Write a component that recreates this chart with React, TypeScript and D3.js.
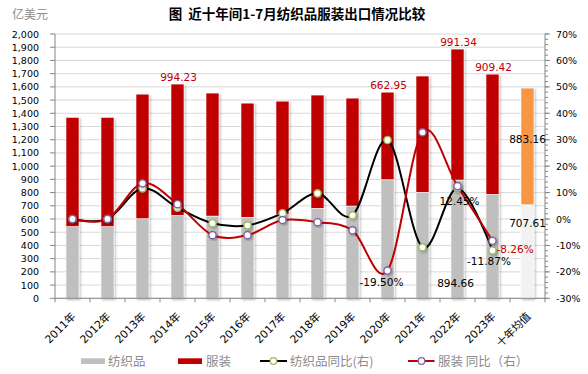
import React from "react";
import * as d3 from "d3";

const categories = ["2011年","2012年","2013年","2014年","2015年","2016年","2017年","2018年","2019年","2020年","2021年","2022年","2023年","十年均值"];
const textile = [542, 542, 602, 627, 622, 613, 636, 681, 698, 897, 802, 894.66, 787, 707.61];
const apparel = [827, 827, 943, 994.23, 931, 864, 856, 857, 817, 662.95, 880, 991.34, 909.42, 883.16];
const textileYoY = [0, 0, 11.6, 4.3, -1.6, -2.4, 2.2, 9.7, 1.4, 29.9, -10.7, 11.6, -11.87];
const apparelYoY = [0, 0, 13.5, 5.6, -6.1, -6.1, -0.4, -1.2, -4.3, -19.5, 32.8, 12.45, -8.26];
const leftTicks = d3.range(0, 2001, 100);
const rightTicks = d3.range(-30, 71, 10);
const rightMinor = d3.range(-30, 71, 2);

const W = 588, H = 374;
const L = 55, R = 545, T = 34, B = 298.3;
const GRAY = "#bfbfbf", RED = "#c00000", AVG_LOW = "#f2f2f2", AVG_TOP = "#f79646";
const NUM = "'DejaVu Sans', 'Noto Sans CJK SC', sans-serif";
const CJK = "'Noto Sans CJK SC', 'DejaVu Sans', sans-serif";
const f2 = (v: number) => v.toFixed(2);

export default function App() {
  const x = d3.scaleBand<string>().domain(categories).range([L, R]).paddingInner(22 / 35).paddingOuter(11 / 35);
  const band = (R - L) / categories.length;
  const cx = (i: number) => L + band * (i + 0.5);
  const yL = d3.scaleLinear().domain([0, 2000]).range([B, T]);
  const yR = d3.scaleLinear().domain([-30, 70]).range([B, T]);
  const bw = x.bandwidth();
  const line = d3.line<number>().x((_, i) => cx(i)).y((d) => yR(d)).curve(d3.curveCardinal.tension(0));
  const avgIdx = categories.length - 1;

  return (
    <svg width={W} height={H} style={{ position: "absolute", left: 0, top: 0, background: "#fff" }}>
      <defs>
        <filter id="sh" x="-30%" y="-30%" width="160%" height="160%">
          <feDropShadow dx="1.2" dy="1.2" stdDeviation="0.9" floodColor="#000" floodOpacity="0.28" />
        </filter>
      </defs>
      {/* title */}
      <text x={297} y={19} textAnchor="middle" fontFamily={CJK} fontWeight="bold" fontSize={13.5} fill="#000" style={{ whiteSpace: "pre" }}>{"图  近十年间1-7月纺织品服装出口情况比较"}</text>
      <text x={12} y={19} fontFamily={CJK} fontSize={12} fill="#8c8c8c">亿美元</text>

      {/* gridlines */}
      {leftTicks.map((t) => (
        <line key={"g" + t} x1={L} x2={R} y1={yL(t)} y2={yL(t)} stroke="#d9d9d9" strokeWidth={1} />
      ))}

      {/* bars */}
      {categories.map((c, i) => {
        const isAvg = i === avgIdx;
        const x0 = x(c)!;
        return (
          <g key={c} filter="url(#sh)">
            <rect x={x0} y={yL(textile[i])} width={bw} height={yL(0) - yL(textile[i])} fill={isAvg ? AVG_LOW : GRAY} stroke="#fff" strokeWidth={0.6} />
            <rect x={x0} y={yL(textile[i] + apparel[i])} width={bw} height={yL(textile[i]) - yL(textile[i] + apparel[i])} fill={isAvg ? AVG_TOP : RED} stroke="#fff" strokeWidth={0.6} />
          </g>
        );
      })}

      {/* axes */}
      <line x1={L} x2={L} y1={T} y2={B} stroke="#868686" />
      {leftTicks.map((t) => (
        <g key={"lt" + t}>
          <line x1={L - 5} x2={L} y1={yL(t)} y2={yL(t)} stroke="#868686" />
          <text x={39} y={yL(t) + 3.5} textAnchor="end" fontFamily={NUM} fontSize={9.5} fill="#000">{d3.format(",")(t)}</text>
        </g>
      ))}
      <line x1={R} x2={R} y1={T} y2={B} stroke="#868686" />
      {rightMinor.map((t) => (
        <line key={"rm" + t} x1={R} x2={R + 3} y1={yR(t)} y2={yR(t)} stroke="#868686" />
      ))}
      {rightTicks.map((t) => (
        <g key={"rt" + t}>
          <line x1={R} x2={R + 5} y1={yR(t)} y2={yR(t)} stroke="#868686" />
          <text x={556} y={yR(t) + 3.5} fontFamily={NUM} fontSize={9.5} fill="#000">{t + "%"}</text>
        </g>
      ))}
      <line x1={L} x2={R} y1={B} y2={B} stroke="#868686" />
      {d3.range(categories.length + 1).map((i) => (
        <line key={"xt" + i} x1={L + band * i} x2={L + band * i} y1={B} y2={B + 4} stroke="#868686" />
      ))}
      {categories.map((c, i) => (
        <text key={"xl" + c} transform={`translate(${cx(i) + 4},${317}) rotate(-45)`} textAnchor="end" fontFamily={NUM} fontSize={10.8} fill="#000">{c}</text>
      ))}

      {/* lines */}
      <path d={line(textileYoY)!} fill="none" stroke="#000" strokeWidth={2} />
      <path d={line(apparelYoY)!} fill="none" stroke={RED} strokeWidth={2} />
      {textileYoY.map((v, i) => (
        <circle key={"tm" + i} cx={cx(i)} cy={yR(v)} r={3.6} fill="#fff" stroke="#9bbb59" strokeWidth={1.4} filter="url(#sh)" />
      ))}
      {apparelYoY.map((v, i) => (
        <circle key={"am" + i} cx={cx(i)} cy={yR(v)} r={3.6} fill="#fff" stroke="#8064a2" strokeWidth={1.4} filter="url(#sh)" />
      ))}

      {/* data labels */}
      {[3, 9, 11, 12].map((i) => (
        <text key={"al" + i} x={cx(i) + 1} y={yL(textile[i] + apparel[i]) - 3} textAnchor="middle" fontFamily={NUM} fontSize={10.5} fill={RED}>{f2(apparel[i])}</text>
      ))}
      <text x={cx(avgIdx)} y={yL(textile[avgIdx] + apparel[avgIdx] / 2) - 3} textAnchor="middle" fontFamily={NUM} fontSize={10.5} fill="#000">{f2(apparel[avgIdx])}</text>
      <text x={cx(avgIdx)} y={yL(textile[avgIdx]) + 22} textAnchor="middle" fontFamily={NUM} fontSize={10.5} fill="#000">{f2(textile[avgIdx])}</text>
      <text x={cx(11) - 2} y={yL(0) - 11} textAnchor="middle" fontFamily={NUM} fontSize={10.5} fill="#000">{f2(textile[11])}</text>
      <text x={cx(9) - 6} y={yR(apparelYoY[9]) + 15.5} textAnchor="middle" fontFamily={NUM} fontSize={10.5} fill="#000">{f2(apparelYoY[9]) + "%"}</text>
      <text x={cx(11) + 2} y={yR(apparelYoY[11]) + 19} textAnchor="middle" fontFamily={NUM} fontSize={10.5} fill="#000">{f2(apparelYoY[11]) + "%"}</text>
      <text x={cx(12) - 3.5} y={yR(textileYoY[12]) + 15} textAnchor="middle" fontFamily={NUM} fontSize={10.5} fill="#000">{f2(textileYoY[12]) + "%"}</text>
      <text x={cx(12) + 4} y={yR(apparelYoY[12]) + 12} textAnchor="start" fontFamily={NUM} fontSize={10.5} fill={RED}>{f2(apparelYoY[12]) + "%"}</text>

      {/* legend */}
      <rect x={81} y={358.3} width={24} height={5.7} fill={GRAY} />
      <text x={108} y={366} fontFamily={CJK} fontSize={12.5} fill="#8c8c8c">纺织品</text>
      <rect x={178} y={358.3} width={24} height={5.7} fill={RED} />
      <text x={206} y={366} fontFamily={CJK} fontSize={12.5} fill="#8c8c8c">服装</text>
      <line x1={260} x2={287} y1={361} y2={361} stroke="#000" strokeWidth={2} />
      <circle cx={273.5} cy={361} r={3.3} fill="#fff" stroke="#9bbb59" strokeWidth={1.3} />
      <text x={290} y={366} fontFamily={CJK} fontSize={12.5} fill="#8c8c8c">纺织品同比(右)</text>
      <line x1={408} x2={434.5} y1={361} y2={361} stroke={RED} strokeWidth={2} />
      <circle cx={421.5} cy={361} r={3.3} fill="#fff" stroke="#8064a2" strokeWidth={1.3} />
      <text x={438} y={366} fontFamily={CJK} fontSize={12.5} fill="#8c8c8c" style={{ whiteSpace: "pre" }}>{"服装 同比（右）"}</text>
    </svg>
  );
}
